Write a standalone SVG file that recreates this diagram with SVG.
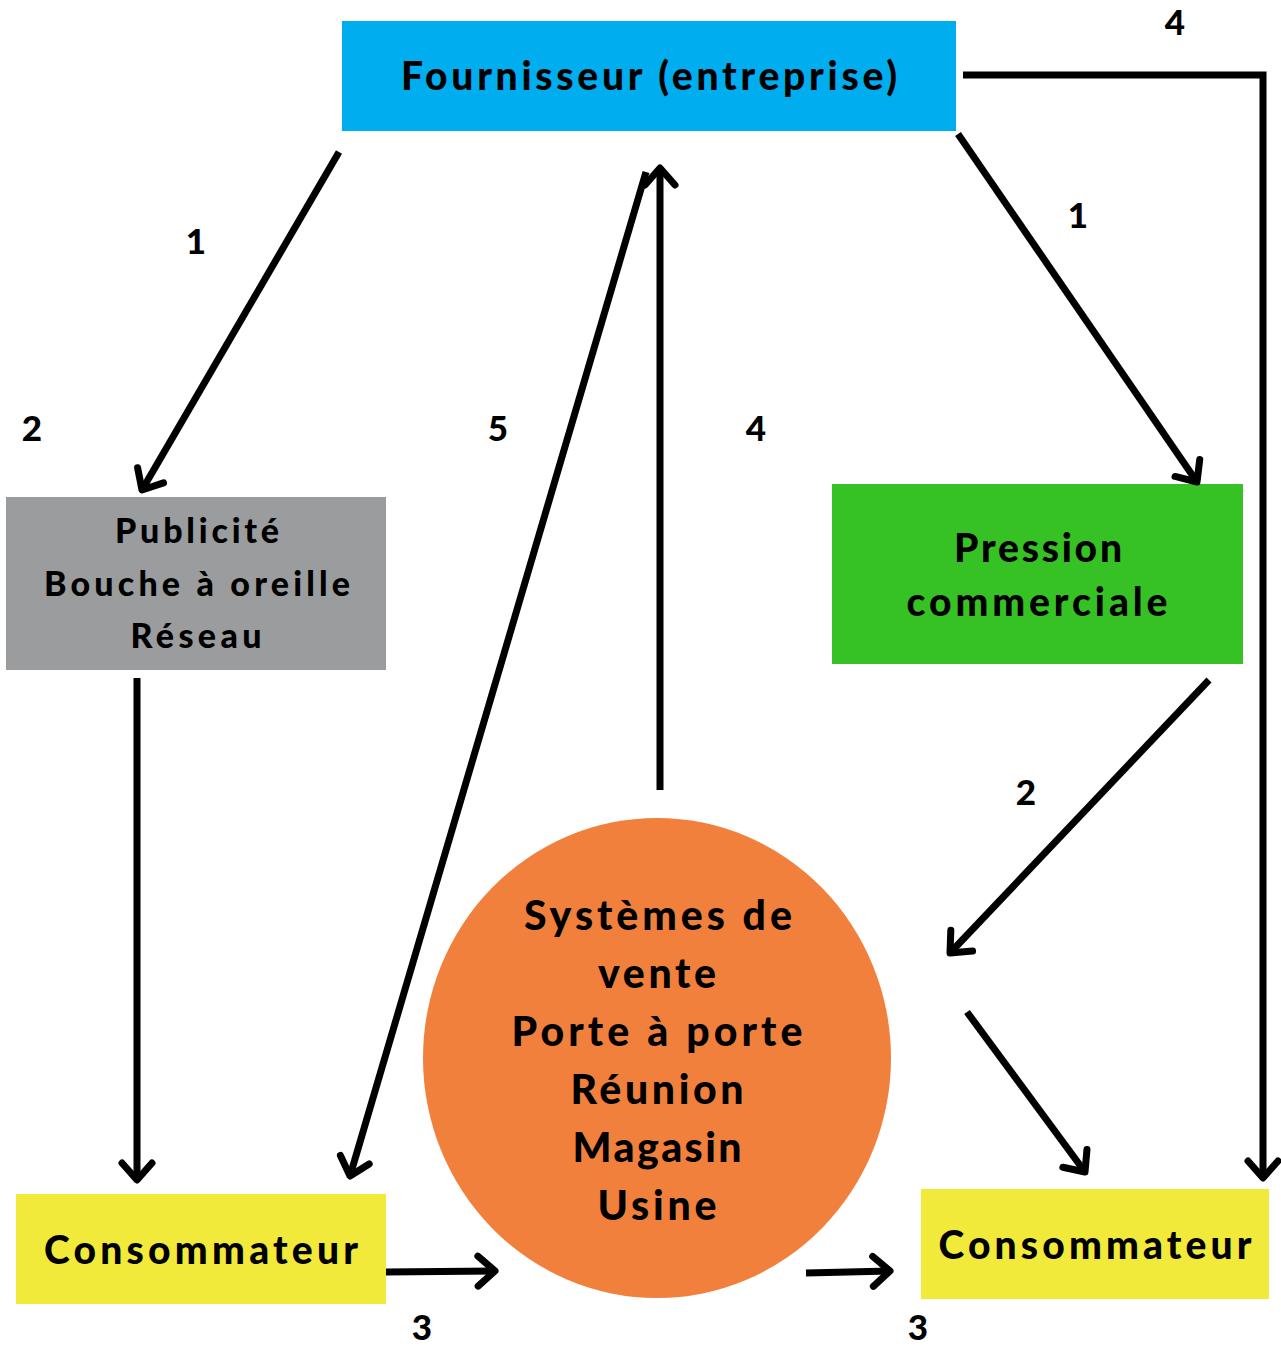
<svg xmlns="http://www.w3.org/2000/svg" width="1281" height="1346" viewBox="0 0 1281 1346">
<style>
text{font-family:Lato,"Open Sans","DejaVu Sans",sans-serif;font-weight:900;fill:#000;text-anchor:middle;dominant-baseline:central}
.n{font-size:34px}
.b{font-size:39px}
.o{font-size:41px}
.l{font-size:35px}
.c{fill:none;stroke:#000;stroke-width:7}
</style>
<defs>
<marker id="ah" markerUnits="userSpaceOnUse" viewBox="-30 -30 40 60" refX="0" refY="0" markerWidth="40" markerHeight="60" orient="auto" overflow="visible">
<path d="M-17,-15 L0,0 L-17,15" fill="none" stroke="#000" stroke-width="7" stroke-linecap="round" stroke-linejoin="round"/>
</marker>
</defs>
<rect width="1281" height="1346" fill="#fff"/>
<g id="fournisseur">
<rect x="342" y="21" width="614" height="110" fill="#00adee"/>
<text x="649" y="75" class="b" textLength="496">Fournisseur (entreprise)</text>
</g>
<g id="publicite">
<rect x="6" y="497" width="380" height="173" fill="#9a9c9d"/>
<text x="197" y="529" class="n" textLength="164">Publicité</text>
<text x="197" y="582" class="n" textLength="306">Bouche à oreille</text>
<text x="196" y="634" class="n" textLength="131">Réseau</text>
</g>
<g id="pression">
<rect x="832" y="484" width="411" height="180" fill="#36c224"/>
<text x="1038" y="547" class="b" textLength="168">Pression</text>
<text x="1037" y="601" class="b" textLength="261">commerciale</text>
</g>
<g id="systemes">
<ellipse cx="657" cy="1058" rx="234" ry="240" fill="#f2803d"/>
<text x="658" y="914" class="o" textLength="268">Systèmes de</text>
<text x="657" y="972" class="o" textLength="118">vente</text>
<text x="657" y="1030" class="o" textLength="291">Porte à porte</text>
<text x="657" y="1088" class="o" textLength="173">Réunion</text>
<text x="657" y="1146" class="o" textLength="169">Magasin</text>
<text x="657" y="1204" class="o" textLength="119">Usine</text>
</g>
<g id="consommateur1">
<rect x="16" y="1194" width="370" height="110" fill="#f2ea3a"/>
<text x="201" y="1249" class="b" textLength="314">Consommateur</text>
</g>
<g id="consommateur2">
<rect x="921" y="1189" width="348" height="110" fill="#f2ea3a"/>
<text x="1095" y="1244" class="b" textLength="313">Consommateur</text>
</g>
<g id="connectors">
<line class="c" x1="339" y1="152" x2="142" y2="490" marker-end="url(#ah)"/>
<line class="c" x1="137" y1="678" x2="137" y2="1180" marker-end="url(#ah)"/>
<line class="c" x1="958" y1="134" x2="1197" y2="482" marker-end="url(#ah)"/>
<polyline class="c" points="963,75 1263,75 1263,1178" marker-end="url(#ah)"/>
<line class="c" x1="660" y1="790" x2="660" y2="168" marker-end="url(#ah)"/>
<line class="c" x1="646" y1="172" x2="350" y2="1176" marker-end="url(#ah)"/>
<line class="c" x1="1209" y1="680" x2="950" y2="953" marker-end="url(#ah)"/>
<line class="c" x1="967" y1="1012" x2="1085" y2="1172" marker-end="url(#ah)"/>
<line class="c" x1="386" y1="1272" x2="495" y2="1271" marker-end="url(#ah)"/>
<line class="c" x1="806" y1="1273" x2="890" y2="1271" marker-end="url(#ah)"/>
</g>
<g id="labels">
<text x="196" y="240" class="l">1</text>
<text x="32" y="427" class="l">2</text>
<text x="498" y="427" class="l">5</text>
<text x="756" y="427" class="l">4</text>
<text x="1078" y="214" class="l">1</text>
<text x="1175" y="21" class="l">4</text>
<text x="1026" y="791" class="l">2</text>
<text x="422" y="1326" class="l">3</text>
<text x="918" y="1326" class="l">3</text>
</g>
</svg>
